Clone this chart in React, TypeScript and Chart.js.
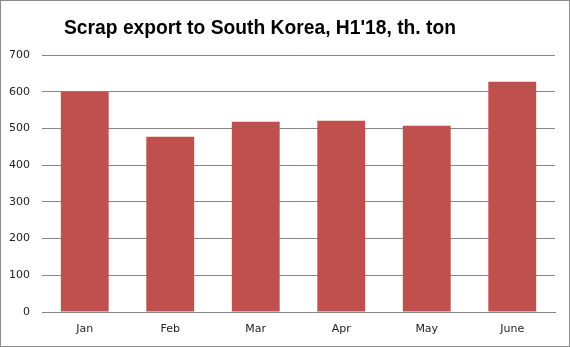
import React, { useEffect, useRef } from "react";
import { Chart, registerables } from "chart.js";

Chart.register(...registerables);

const categories = ["Jan", "Feb", "Mar", "Apr", "May", "June"];
const exportValues = [600, 477, 518, 521, 507, 627];
const titleText = "Scrap export to South Korea, H1'18, th. ton";

export default function App() {
  const ref = useRef<HTMLCanvasElement | null>(null);

  useEffect(() => {
    const canvas = ref.current;
    if (!canvas) return;
    const decor = {
      id: "decor",
      afterDraw(chart: any) {
        const ctx = chart.ctx;
        ctx.save();
        ctx.strokeStyle = "#8c8c8c";
        ctx.lineWidth = 1;
        ctx.strokeRect(0.5, 0.5, chart.width - 1, chart.height - 1);
        ctx.fillStyle = "#000";
        ctx.font = "bold 21px 'Liberation Sans'";
        ctx.textAlign = "center";
        ctx.textBaseline = "alphabetic";
        ctx.fillText(titleText, 260, 34, 392);
        ctx.restore();
      },
    };
    const chart = new Chart(canvas, {
      type: "bar",
      data: {
        labels: categories,
        datasets: [
          {
            data: exportValues,
            backgroundColor: "#C0504D",
            barPercentage: 0.56,
            categoryPercentage: 1,
          },
        ],
      },
      options: {
        animation: false,
        responsive: false,
        maintainAspectRatio: false,
        layout: { padding: { left: 0, right: 15, top: 55, bottom: 0 } },
        plugins: {
          legend: { display: false },
          title: { display: false },
          tooltip: { enabled: false },
        },
        scales: {
          x: {
            z: 1,
            grid: { display: false, drawTicks: false },
            border: { display: true, color: "#868686", width: 1 },
            ticks: {
              padding: 11,
              color: "#222",
              font: { family: "'DejaVu Sans'", size: 11 },
            },
            afterFit(scale: any) {
              scale.height = 35;
            },
          },
          y: {
            min: 0,
            max: 700,
            ticks: {
              stepSize: 100,
              padding: 12,
              color: "#222",
              font: { family: "'DejaVu Sans'", size: 11 },
            },
            grid: { color: "#868686", drawTicks: false },
            border: { display: false },
            afterFit(scale: any) {
              scale.width = 42;
            },
          },
        },
      },
      plugins: [decor],
    });
    return () => chart.destroy();
  }, []);

  return (
    <div style={{ position: "fixed", left: 0, top: 0, width: 570, height: 347, background: "#fff" }}>
      <canvas ref={ref} width={570} height={347} style={{ display: "block", width: 570, height: 347 }} />
    </div>
  );
}
